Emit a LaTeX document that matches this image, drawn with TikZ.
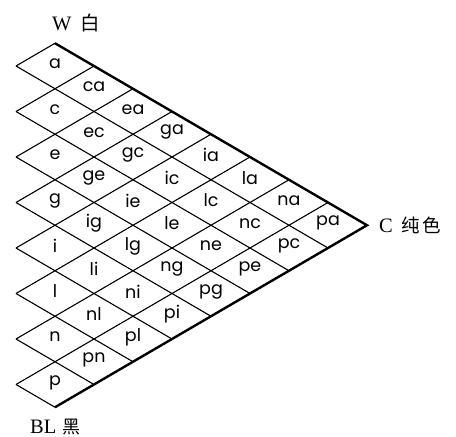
\documentclass[tikz,border=0pt]{standalone}
\usepackage{fontspec}
\setmainfont{Liberation Serif}
\newfontfamily\labfont{Poppins}
\newfontfamily\cjk{Noto Sans CJK SC}
\begin{document}
\begin{tikzpicture}[x=1pt,y=-1pt,
  grid/.style={line width=1.1pt},
  edge/.style={line width=2.4pt},
  lab/.style={font=\labfont\fontsize{17.5}{17.5}\selectfont, inner sep=0pt},
  title/.style={font=\fontsize{20.5}{20.5}\selectfont, inner sep=0pt, anchor=west}]
\useasboundingbox (0,0) rectangle (456,437);
% lattice vertices
\foreach \m in {0,...,8}{
  \foreach \n in {0,...,8}{
    \coordinate (v\m-\n) at ({55+39*(\m-\n)},{43.25+22.75*(\m+\n)});
  }
}
% grid lines
\foreach \n in {0,...,8}{
  \pgfmathtruncatemacro\ms{max(\n-1,0)}
  \draw[grid] (v\ms-\n) -- (v8-\n);
}
\foreach \m in {0,...,8}{
  \pgfmathtruncatemacro\ne{min(\m+1,8)}
  \draw[grid] (v\m-0) -- (v\m-\ne);
}
% outer edges
\draw[edge, line join=miter] (v0-0) -- (v8-0) -- (v8-8);
% labels
\foreach \i/\j/\t in {0/0/a,
  1/0/ca,1/1/c,
  2/0/ea,2/1/ec,2/2/e,
  3/0/ga,3/1/gc,3/2/ge,3/3/g,
  4/0/ia,4/1/ic,4/2/ie,4/3/ig,4/4/i,
  5/0/la,5/1/lc,5/2/le,5/3/lg,5/4/li,5/5/l,
  6/0/na,6/1/nc,6/2/ne,6/3/ng,6/4/ni,6/5/nl,6/6/n,
  7/0/pa,7/1/pc,7/2/pe,7/3/pg,7/4/pi,7/5/pl,7/6/pn,7/7/p}{
  \node[lab] (d\i\j) at ({55+39*(\i-\j)},{64+22.75*(\i+\j)}) {\t};
}
% vertex titles
\node[title] (W) at (52,23) {W\hspace{0.45em}{\cjk\fontsize{19.5}{19.5}\selectfont 白}};
\node[title] (C) at (379,225) {C\hspace{0.4em}{\cjk\fontsize{18.5}{18.5}\selectfont 纯\hspace{0.15em}色}};
\node[title] (BL) at (30,427) {BL\hspace{0.3em}{\cjk\fontsize{18}{18}\selectfont 黑}};
\end{tikzpicture}
\end{document}
